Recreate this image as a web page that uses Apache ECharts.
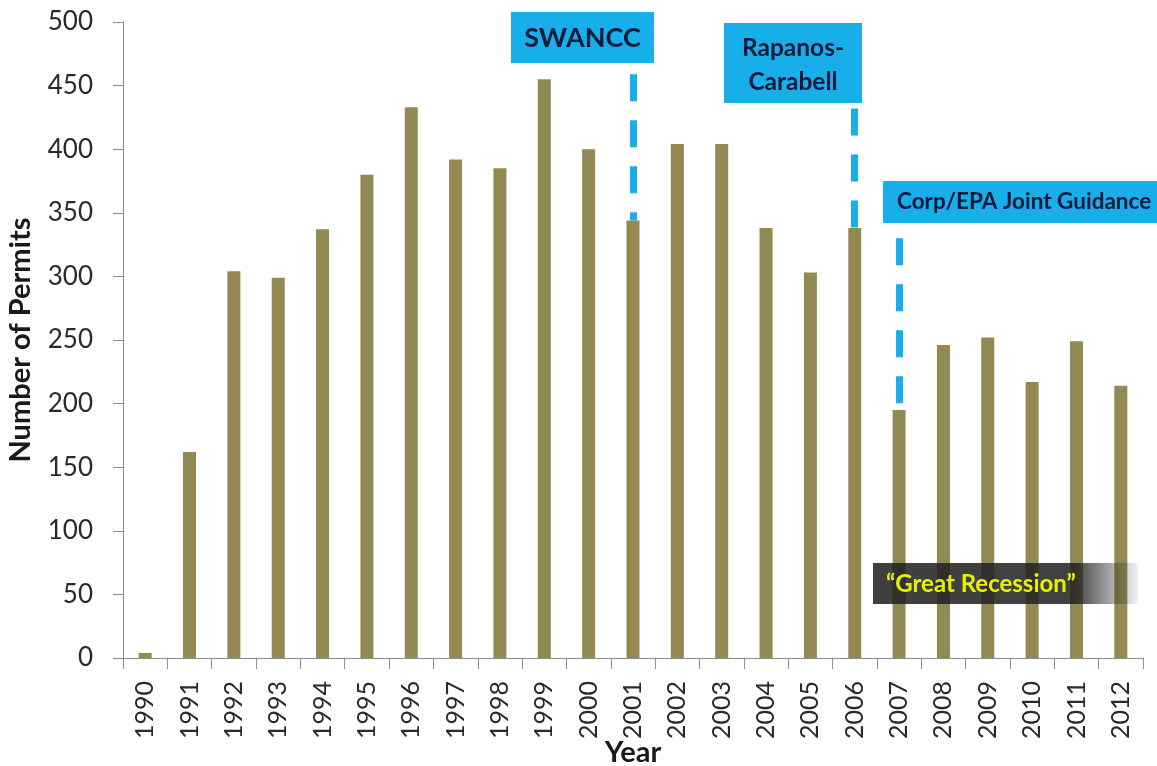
<!DOCTYPE html>
<html>
<head>
<meta charset="utf-8">
<title>Number of Permits by Year</title>
<script src="https://cdn.jsdelivr.net/npm/echarts@6/dist/echarts.min.js"></script>
<style>
  html, body { margin: 0; padding: 0; background: #ffffff; }
  #chart { width: 1157px; height: 766px; }
</style>
</head>
<body>
<div id="chart"></div>
<script>
// Permits issued per year
const years = ['1990','1991','1992','1993','1994','1995','1996','1997','1998','1999','2000',
               '2001','2002','2003','2004','2005','2006','2007','2008','2009','2010','2011','2012'];
const permits = [4, 162, 304, 299, 337, 380, 433, 392, 385, 455, 400,
                 344, 404, 404, 338, 303, 338, 195, 246, 252, 217, 249, 214];

// Policy events marked with dashed lines (year, value where the line starts)
const eventYears = ['2001', '2006', '2007'];
const eventTops = [459, 432, 330];

const yTicks = { min: 0, max: 500, interval: 50 };

const FONT = 'Lato, "Open Sans", sans-serif';
const BLUE = '#17aeea';
const NAVY = '#0e1a3c';

const eventLines = eventYears.map((y, i) => [
  { coord: [y, eventTops[i]] },
  { coord: [y, permits[years.indexOf(y)]] }
]);

const chart = echarts.init(document.getElementById('chart'), null, { renderer: 'canvas' });

chart.setOption({
  animation: false,
  backgroundColor: '#ffffff',
  grid: { left: 123, right: 14, top: 22, bottom: 108, containLabel: false, outerBoundsMode: 'none' },
  xAxis: {
    type: 'category',
    data: years,
    name: 'Year',
    nameLocation: 'middle',
    nameGap: 80,
    nameMoveOverlap: false,
    nameTextStyle: { fontFamily: FONT, fontSize: 29, fontWeight: 'bold', color: '#1a1a1a' },
    axisLine: { lineStyle: { color: '#8c8c8c', width: 1 } },
    axisTick: { show: true, length: 11, lineStyle: { color: '#8c8c8c' } },
    axisLabel: { rotate: 90, margin: 23, fontFamily: FONT, fontSize: 25, color: '#2a2a2a' }
  },
  yAxis: {
    type: 'value',
    min: yTicks.min,
    max: yTicks.max,
    interval: yTicks.interval,
    name: 'Number of Permits',
    nameLocation: 'middle',
    nameGap: 88,
    nameRotate: 90,
    nameMoveOverlap: false,
    nameTextStyle: { fontFamily: FONT, fontSize: 29, fontWeight: 'bold', color: '#1a1a1a' },
    axisLine: { show: true, lineStyle: { color: '#8c8c8c', width: 1 } },
    axisTick: { show: true, length: 10, lineStyle: { color: '#8c8c8c' } },
    axisLabel: { margin: 30, fontFamily: FONT, fontSize: 26, color: '#2a2a2a' },
    splitLine: { show: false }
  },
  series: [{
    type: 'bar',
    data: permits,
    barWidth: 13,
    itemStyle: { color: '#938953' },
    markLine: {
      silent: true,
      symbol: 'none',
      label: { show: false },
      lineStyle: { color: BLUE, width: 7, type: [27, 19], cap: 'butt' },
      data: eventLines
    }
  }],
  graphic: [
    {
      type: 'group', left: 511, top: 12, z: 100,
      children: [
        { type: 'rect', z: 100, shape: { x: 0, y: 0, width: 143, height: 51 }, style: { fill: BLUE } },
        { type: 'text', z: 101, x: 71.5, y: 26, style: { text: 'SWANCC', fill: NAVY, font: 'bold 27px ' + FONT, align: 'center', verticalAlign: 'middle' } }
      ]
    },
    {
      type: 'group', left: 724, top: 23, z: 100,
      children: [
        { type: 'rect', z: 100, shape: { x: 0, y: 0, width: 138, height: 80 }, style: { fill: BLUE } },
        { type: 'text', z: 101, x: 69, y: 42, style: { text: 'Rapanos-\nCarabell', fill: NAVY, font: 'bold 24.5px ' + FONT, lineHeight: 34, align: 'center', verticalAlign: 'middle' } }
      ]
    },
    {
      type: 'group', left: 883, top: 181, z: 100,
      children: [
        { type: 'rect', z: 100, shape: { x: 0, y: 0, width: 274, height: 42 }, style: { fill: BLUE } },
        { type: 'text', z: 101, x: 14, y: 21, style: { text: 'Corp/EPA Joint Guidance', fill: NAVY, font: 'bold 22.5px ' + FONT, align: 'left', verticalAlign: 'middle' } }
      ]
    },
    {
      type: 'group', left: 873, top: 563, z: 100,
      children: [
        {
          type: 'rect', z: 100, shape: { x: 0, y: 0, width: 265, height: 41 },
          style: {
            fill: new echarts.graphic.LinearGradient(0, 0, 1, 0, [
              { offset: 0, color: 'rgba(32,32,32,0.86)' },
              { offset: 0.76, color: 'rgba(34,34,34,0.86)' },
              { offset: 1, color: 'rgba(40,40,40,0.06)' }
            ])
          }
        },
        { type: 'text', z: 101, x: 13, y: 21, style: { text: '\u201cGreat Recession\u201d', fill: '#e8f000', font: 'bold 24px ' + FONT, align: 'left', verticalAlign: 'middle' } }
      ]
    }
  ]
});
</script>
</body>
</html>
